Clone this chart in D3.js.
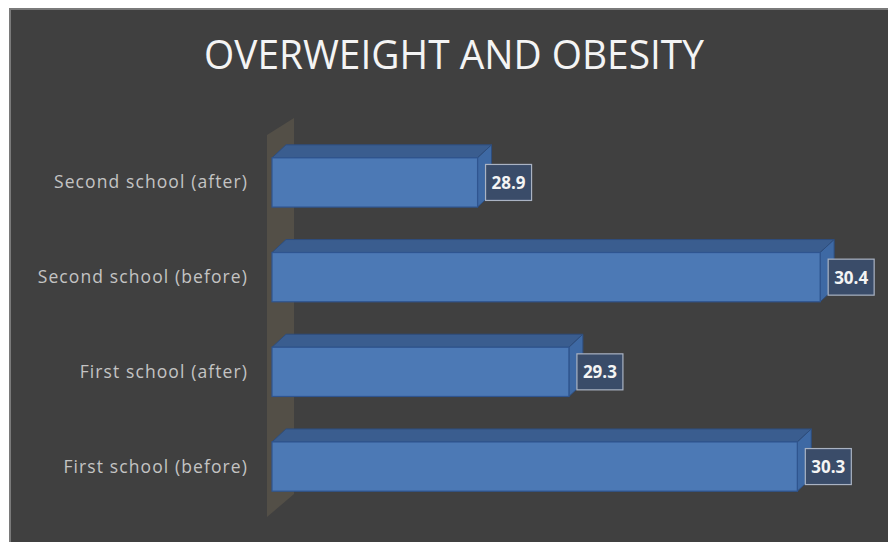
<!DOCTYPE html>
<html>
<head>
<meta charset="utf-8">
<script src="https://cdn.jsdelivr.net/npm/d3@7"></script>
<style>
  html, body { margin: 0; padding: 0; background: #ffffff; }
  svg { display: block; }
</style>
</head>
<body>
<svg id="chart" width="888" height="542"></svg>
<script>
const title = "OVERWEIGHT AND OBESITY";
const categories = ["Second school (after)", "Second school (before)", "First school (after)", "First school (before)"];
const values = [28.9, 30.4, 29.3, 30.3];
const xDomain = [28, 30.5];

const svg = d3.select("#chart");
const W = 888, H = 542;

// frame
svg.append("rect").attr("x", 0).attr("y", 0).attr("width", W).attr("height", H).attr("fill", "#ffffff");
svg.append("rect").attr("x", 9).attr("y", 8).attr("width", W - 9).attr("height", H - 8).attr("fill", "#7a7a7a");
svg.append("rect").attr("x", 11).attr("y", 10).attr("width", W - 11).attr("height", H - 10).attr("fill", "#404040");

// title
svg.append("text")
  .attr("x", 454).attr("y", 69)
  .attr("text-anchor", "middle")
  .attr("font-family", "'Open Sans', sans-serif")
  .attr("font-size", 41)
  .attr("fill", "#f4f4f4")
  .attr("textLength", 500)
  .attr("lengthAdjust", "spacingAndGlyphs")
  .text(title);

const x = d3.scaleLinear().domain(xDomain).range([272, 843]);
const y = d3.scaleBand().domain(categories).range([135, 514]).paddingInner(0.48).paddingOuter(0.241);

const dx = 14, dy = -13;

// back wall (3D axis wall)
const x0 = x(xDomain[0]);
const wallTop = y.range()[0], wallBot = y.range()[1];
svg.append("path")
  .attr("d", `M${x0 - 5},${wallTop} L${x0 - 5 + 27},${wallTop - 17} L${x0 - 5 + 27},${wallBot - 20} L${x0 - 5},${wallBot + 3} Z`)
  .attr("fill", "#534f47");

const data = categories.map((c, i) => ({ c, v: values[i] }));

const g = svg.append("g");
const bars = g.selectAll("g.bar").data(data).enter().append("g").attr("class", "bar");

// top face
bars.append("path")
  .attr("d", d => {
    const xs = x0, xe = x(d.v), yt = y(d.c);
    return `M${xs},${yt} L${xs + dx},${yt + dy} L${xe + dx},${yt + dy} L${xe},${yt} Z`;
  })
  .attr("fill", "#3a5d8f").attr("stroke", "#2e4d7c").attr("stroke-width", 1);

// side face
bars.append("path")
  .attr("d", d => {
    const xe = x(d.v), yt = y(d.c), yb = yt + y.bandwidth();
    return `M${xe},${yt} L${xe + dx},${yt + dy} L${xe + dx},${yb + dy} L${xe},${yb} Z`;
  })
  .attr("fill", "#3e69a4").attr("stroke", "#2e4d7c").attr("stroke-width", 1);

// front face
bars.append("rect")
  .attr("x", x0)
  .attr("y", d => y(d.c))
  .attr("width", d => x(d.v) - x0)
  .attr("height", y.bandwidth())
  .attr("fill", "#4c79b5").attr("stroke", "#2f5590").attr("stroke-width", 1.2);

// value labels
const lab = bars.append("g")
  .attr("transform", d => `translate(${x(d.v) + 8},${y(d.c) + y.bandwidth() / 2})`);
lab.append("rect")
  .attr("x", 0).attr("y", -18).attr("width", 46).attr("height", 36)
  .attr("fill", "#3a4c69").attr("stroke", "#aab3c3").attr("stroke-width", 1.2);
lab.append("text")
  .attr("x", 23).attr("y", 6.5)
  .attr("text-anchor", "middle")
  .attr("font-family", "'Open Sans', sans-serif")
  .attr("font-weight", "bold")
  .attr("font-size", 17)
  .attr("fill", "#f4f4f4")
  .text(d => d.v.toFixed(1));

// category labels
svg.append("g").selectAll("text").data(categories).enter().append("text")
  .attr("x", 248)
  .attr("y", d => y(d) + y.bandwidth() / 2 + 6)
  .attr("text-anchor", "end")
  .attr("font-family", "'Open Sans', sans-serif")
  .attr("font-size", 17.5)
  .attr("font-weight", 500)
  .attr("letter-spacing", 1.1)
  .attr("fill", "#c4c4c4")
  .text(d => d);
</script>
</body>
</html>
